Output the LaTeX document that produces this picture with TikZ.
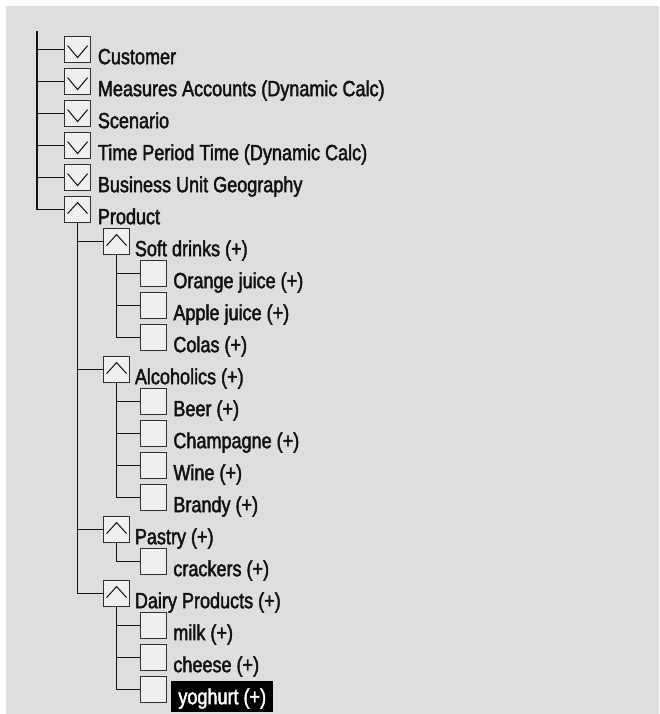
\documentclass[tikz,border=0pt]{standalone}
\usepackage{fontspec}
\setmainfont[FakeStretch=0.82,FakeBold=2]{Liberation Sans}
\definecolor{bg}{HTML}{DEDEDE}
\definecolor{boxfill}{HTML}{EFEFEF}
\definecolor{boxline}{HTML}{303030}
\definecolor{ink}{HTML}{111111}
\tikzset{
  bx/.style={draw=boxline, fill=boxfill, line width=1.2pt, minimum width=26pt, minimum height=26pt, inner sep=0pt, anchor=north west},
  chev/.style={draw=ink, line width=1pt},
  downbox/.style={bx, path picture={\draw[chev] ([shift={(3,9)}]path picture bounding box.north west) -- ++(10,12) -- ++(10,-12);}},
  upbox/.style={bx, path picture={\draw[chev] ([shift={(3,17)}]path picture bounding box.north west) -- ++(10,-11) -- ++(10,11);}},
  lbl/.style={font=\fontsize{22pt}{24pt}\selectfont, text=ink, inner sep=0pt, anchor=base west},
  conn/.style={draw=ink, line width=1.4pt},
}
\begin{document}
\begin{tikzpicture}[x=1pt,y=-1pt]
\useasboundingbox (0,0) rectangle (659,714);
\fill[bg] (6,6) rectangle (659,714);
% level 0 boxes (x=64)
\node[downbox] (cust) at (64,36) {};
\node[downbox] (meas) at (64,68) {};
\node[downbox] (scen) at (64,100) {};
\node[downbox] (time) at (64,132) {};
\node[downbox] (bu)   at (64,164) {};
\node[upbox]   (prod) at (64,196) {};
% level 1 boxes (x=103)
\node[upbox] (soft)  at (103,228) {};
\node[upbox] (alco)  at (103,356) {};
\node[upbox] (past)  at (103,516) {};
\node[upbox] (dairy) at (103,580) {};
% level 2 boxes (x=140)
\node[bx] (oj)    at (140,260) {};
\node[bx] (aj)    at (140,292) {};
\node[bx] (colas) at (140,324) {};
\node[bx] (beer)  at (140,388) {};
\node[bx] (champ) at (140,420) {};
\node[bx] (wine)  at (140,452) {};
\node[bx] (brandy) at (140,484) {};
\node[bx] (crack) at (140,548) {};
\node[bx] (milk)  at (140,612) {};
\node[bx] (chees) at (140,644) {};
\node[bx] (yog)   at (140,676) {};
% labels
\node[lbl] (tcust) at ([xshift=6.5pt,yshift=-1pt]cust.south east) {Customer};
\node[lbl] (tmeas) at ([xshift=6.5pt,yshift=-1pt]meas.south east) {Measures Accounts (Dynamic Calc)};
\node[lbl] (tscen) at ([xshift=6.5pt,yshift=-1pt]scen.south east) {Scenario};
\node[lbl] (ttime) at ([xshift=6.5pt,yshift=-1pt]time.south east) {Time Period Time (Dynamic Calc)};
\node[lbl] (tbu)   at ([xshift=6.5pt,yshift=-1pt]bu.south east) {Business Unit Geography};
\node[lbl] (tprod) at ([xshift=6.5pt,yshift=-1pt]prod.south east) {Product};
\node[lbl] (tsoft) at ([xshift=4.5pt,yshift=-1pt]soft.south east) {Soft drinks (+)};
\node[lbl] (talco) at ([xshift=4.5pt,yshift=-1pt]alco.south east) {Alcoholics (+)};
\node[lbl] (tpast) at ([xshift=4.5pt,yshift=-1pt]past.south east) {Pastry (+)};
\node[lbl] (tdairy) at ([xshift=4.5pt,yshift=-1pt]dairy.south east) {Dairy Products (+)};
\node[lbl] (toj)   at ([xshift=6pt,yshift=-1pt]oj.south east) {Orange juice (+)};
\node[lbl] (taj)   at ([xshift=6pt,yshift=-1pt]aj.south east) {Apple juice (+)};
\node[lbl] (tcolas) at ([xshift=6pt,yshift=-1pt]colas.south east) {Colas (+)};
\node[lbl] (tbeer) at ([xshift=6pt,yshift=-1pt]beer.south east) {Beer (+)};
\node[lbl] (tchamp) at ([xshift=6pt,yshift=-1pt]champ.south east) {Champagne (+)};
\node[lbl] (twine) at ([xshift=6pt,yshift=-1pt]wine.south east) {Wine (+)};
\node[lbl] (tbrandy) at ([xshift=6pt,yshift=-1pt]brandy.south east) {Brandy (+)};
\node[lbl] (tcrack) at ([xshift=6pt,yshift=-1pt]crack.south east) {crackers (+)};
\node[lbl] (tmilk) at ([xshift=6pt,yshift=-1pt]milk.south east) {milk (+)};
\node[lbl] (tchees) at ([xshift=6pt,yshift=-1pt]chees.south east) {cheese (+)};
\node[lbl, fill=black, text=white, inner xsep=7pt, inner ysep=0pt, text height=23pt, text depth=7.7pt] (tyog) at ([xshift=4pt,yshift=-1pt]yog.south east) {yoghurt (+)};
% level 0 connectors
\coordinate (trunk) at (37,31);
\draw[conn] (trunk) |- (prod.west);
\foreach \n in {cust,meas,scen,time,bu} {\draw[conn] (\n.west) -- (\n.west -| trunk);}
% level 1 connectors
\draw[conn] (prod.south) |- (dairy.west);
\foreach \n in {soft,alco,past} {\draw[conn] (\n.west) -- (\n.west -| prod.south);}
% level 2 connectors
\draw[conn] (soft.south) |- (colas.west);
\foreach \n in {oj,aj} {\draw[conn] (\n.west) -- (\n.west -| soft.south);}
\draw[conn] (alco.south) |- (brandy.west);
\foreach \n in {beer,champ,wine} {\draw[conn] (\n.west) -- (\n.west -| alco.south);}
\draw[conn] (past.south) |- (crack.west);
\draw[conn] (dairy.south) |- (yog.west);
\foreach \n in {milk,chees} {\draw[conn] (\n.west) -- (\n.west -| dairy.south);}
\end{tikzpicture}
\end{document}
